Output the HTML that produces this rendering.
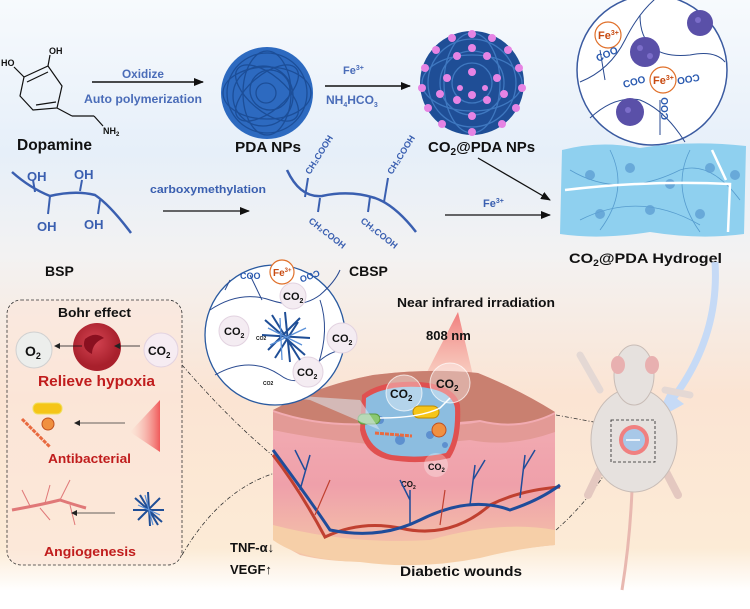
<!DOCTYPE html>
<html><head><meta charset="utf-8"><style>
html,body{margin:0;padding:0;background:#fff}
svg{display:block}
text{font-family:"Liberation Sans",sans-serif;font-weight:bold}
</style></head><body>
<svg width="750" height="609" viewBox="0 0 750 609" xmlns="http://www.w3.org/2000/svg">
<defs>
<linearGradient id="bg" x1="0" y1="0" x2="0" y2="1">
<stop offset="0" stop-color="#f7fafd"/><stop offset="0.25" stop-color="#e6eff9"/>
<stop offset="0.42" stop-color="#f3f2f2"/><stop offset="0.65" stop-color="#fbe4d3"/>
<stop offset="0.9" stop-color="#fcebd6"/><stop offset="0.97" stop-color="#ffffff"/>
</linearGradient>
<radialGradient id="rbc" cx="0.45" cy="0.4"><stop offset="0" stop-color="#d44452"/><stop offset="1" stop-color="#a8202c"/></radialGradient>
<linearGradient id="skin" x1="0" y1="0" x2="0" y2="1"><stop offset="0" stop-color="#f4b4b8"/><stop offset="0.6" stop-color="#efa0aa"/><stop offset="1" stop-color="#f5c8a8"/></linearGradient>
<linearGradient id="beam" x1="0" y1="0" x2="0" y2="1"><stop offset="0" stop-color="#f07070" stop-opacity="0.9"/><stop offset="1" stop-color="#f8b0a0" stop-opacity="0.1"/></linearGradient>
<linearGradient id="wedge" x1="1" y1="0" x2="0" y2="0"><stop offset="0" stop-color="#f05a5a"/><stop offset="1" stop-color="#f8c0b8" stop-opacity="0"/></linearGradient>
<marker id="ah" markerWidth="10" markerHeight="8" refX="9" refY="4" orient="auto" markerUnits="userSpaceOnUse"><path d="M0,0 L10,4 L0,8 z" fill="#111"/></marker>
<marker id="sa" markerWidth="6" markerHeight="6" refX="5" refY="3" orient="auto" markerUnits="userSpaceOnUse"><path d="M0,0 L6,3 L0,6 z" fill="#222"/></marker>
</defs>
<rect width="750" height="609" fill="url(#bg)"/>

<!-- Dopamine -->
<g stroke="#111" stroke-width="1.2" fill="none">
<polygon points="24,77 48,66 62,86 57,108 33,110 20,96"/>
<line x1="27" y1="82" x2="48" y2="72"/><line x1="56" y1="102" x2="36" y2="105"/>
<line x1="24" y1="77" x2="14" y2="67"/><line x1="48" y1="66" x2="50" y2="55"/>
<line x1="57" y1="108" x2="72" y2="116"/><line x1="72" y1="116" x2="94" y2="116"/><line x1="94" y1="116" x2="103" y2="126"/>
</g>
<text x="1" y="66" font-size="9" fill="#111">HO</text><text x="49" y="54" font-size="9" fill="#111">OH</text><text x="103" y="134" font-size="9" fill="#111">NH<tspan font-size="6" dy="2">2</tspan></text>
<text x="17" y="150" font-size="16" fill="#111" textLength="75" lengthAdjust="spacingAndGlyphs">Dopamine</text>
<line x1="92" y1="82" x2="203" y2="82" stroke="#111" stroke-width="1.5" marker-end="url(#ah)"/>
<text x="122" y="78" font-size="12" fill="#4a6cb8" textLength="42" lengthAdjust="spacingAndGlyphs">Oxidize</text>
<text x="84" y="103" font-size="12" fill="#4a6cb8" textLength="118" lengthAdjust="spacingAndGlyphs">Auto polymerization</text>

<!-- PDA NPs -->
<circle cx="267" cy="93" r="46" fill="#2d6ac0"/>
<g fill="none" stroke="#1c4e98" stroke-width="1.3">
<circle cx="267" cy="93" r="40"/><circle cx="263" cy="96" r="30"/><circle cx="270" cy="90" r="20"/><circle cx="266" cy="93" r="10"/>
<ellipse cx="267" cy="93" rx="44" ry="26"/><ellipse cx="267" cy="93" rx="24" ry="42"/>
<ellipse cx="267" cy="93" rx="38" ry="18" transform="rotate(40 267 93)"/><ellipse cx="267" cy="93" rx="38" ry="18" transform="rotate(-40 267 93)"/>
</g>
<text x="235" y="152" font-size="15" fill="#111" textLength="66" lengthAdjust="spacingAndGlyphs">PDA NPs</text>
<line x1="325" y1="86" x2="410" y2="86" stroke="#111" stroke-width="1.5" marker-end="url(#ah)"/>
<text x="343" y="74" font-size="11" fill="#4a6cb8">Fe<tspan font-size="7" dy="-4">3+</tspan></text>
<text x="326" y="104" font-size="12" fill="#4a6cb8">NH<tspan font-size="7" dy="3">4</tspan><tspan dy="-3">HCO</tspan><tspan font-size="7" dy="3">3</tspan></text>

<!-- CO2@PDA NPs -->
<circle cx="472" cy="83" r="52" fill="#1f4e96"/>
<g fill="none" stroke="#3f78c0" stroke-width="1.3">
<circle cx="472" cy="83" r="44"/><circle cx="472" cy="83" r="32"/><circle cx="472" cy="83" r="20"/><ellipse cx="472" cy="83" rx="50" ry="28"/><ellipse cx="472" cy="83" rx="28" ry="50"/>
</g>
<g fill="#e684e4">
<circle cx="472" cy="34" r="4"/><circle cx="452" cy="38" r="4"/><circle cx="492" cy="38" r="4"/><circle cx="436" cy="50" r="4"/><circle cx="508" cy="50" r="4"/>
<circle cx="425" cy="68" r="4"/><circle cx="519" cy="68" r="4"/><circle cx="422" cy="88" r="4"/><circle cx="522" cy="88" r="4"/><circle cx="428" cy="108" r="4"/><circle cx="516" cy="108" r="4"/>
<circle cx="442" cy="124" r="4"/><circle cx="502" cy="124" r="4"/><circle cx="472" cy="132" r="4"/><circle cx="457" cy="56" r="4"/><circle cx="487" cy="56" r="4"/>
<circle cx="447" cy="78" r="4"/><circle cx="497" cy="78" r="4"/><circle cx="472" cy="72" r="4"/><circle cx="457" cy="100" r="4"/><circle cx="487" cy="100" r="4"/><circle cx="472" cy="116" r="4"/>
<circle cx="440" cy="94" r="4"/><circle cx="504" cy="94" r="4"/><circle cx="472" cy="48" r="4"/><circle cx="472" cy="95" r="4"/><circle cx="460" cy="88" r="3"/><circle cx="485" cy="88" r="3"/>
</g>
<text x="428" y="152" font-size="15" fill="#111">CO<tspan font-size="10" dy="3">2</tspan><tspan dy="-3">@PDA NPs</tspan></text>

<!-- top right zoom circle -->
<circle cx="652" cy="70" r="75" fill="#fff" stroke="#3a5aa0" stroke-width="1.5"/>
<g fill="none" stroke="#2a4a90" stroke-width="1">
<path d="M580,82 Q610,70 625,40 Q640,10 660,-5"/><path d="M590,118 Q615,95 640,100 Q665,110 685,142"/><path d="M640,15 Q640,60 690,55 Q715,50 725,62"/><path d="M660,100 L660,135"/><path d="M600,50 L605,80"/>
</g>
<circle cx="608" cy="35" r="13" fill="#fff" stroke="#e0702a" stroke-width="1.2"/><text x="598" y="39" font-size="11" fill="#c84a10">Fe<tspan font-size="7" dy="-4">3+</tspan></text>
<circle cx="663" cy="80" r="13" fill="#fff" stroke="#e0702a" stroke-width="1.2"/><text x="653" y="84" font-size="11" fill="#c84a10">Fe<tspan font-size="7" dy="-4">3+</tspan></text>
<g font-size="10" fill="#2a5ab0" font-weight="normal">
<text x="598" y="62" transform="rotate(-25 598 62)">COO</text><text x="624" y="88" transform="rotate(-15 624 88)">COO</text>
<text x="698" y="62" transform="rotate(170 698 68)">COO</text><text x="668" y="120" transform="rotate(-90 668 120)">COO</text>
</g>
<circle cx="645" cy="52" r="15" fill="#5a50a8"/><circle cx="700" cy="23" r="13" fill="#5a50a8"/><circle cx="630" cy="112" r="14" fill="#5a50a8"/>
<g fill="#8a7ad8" opacity="0.7"><circle cx="640" cy="48" r="3"/><circle cx="650" cy="56" r="3"/><circle cx="698" cy="20" r="3"/><circle cx="628" cy="110" r="3"/></g>

<!-- hydrogel -->
<path d="M562,150 Q600,140 640,148 Q690,140 746,146 L744,234 Q700,240 650,232 Q600,240 560,234 Z" fill="#8fd0ef"/>
<g fill="none" stroke="#3e86c0" stroke-width="0.8" opacity="0.7"><path d="M570,170 Q620,200 680,170 Q710,160 740,200"/><path d="M580,220 Q640,190 700,225"/><path d="M610,150 Q630,190 600,230"/><path d="M690,150 Q670,190 700,232"/></g>
<g fill="#5fa0d4" opacity="0.8"><circle cx="590" cy="175" r="5"/><circle cx="630" cy="168" r="5"/><circle cx="670" cy="184" r="5"/><circle cx="710" cy="168" r="5"/><circle cx="600" cy="214" r="5"/><circle cx="650" cy="210" r="5"/><circle cx="700" cy="214" r="5"/><circle cx="735" cy="175" r="5"/></g>
<path d="M565,190 Q650,180 730,184 L728,232 M712,150 L726,180" fill="none" stroke="#fff" stroke-width="2.5"/>
<text x="569" y="263" font-size="14" fill="#111" textLength="153" lengthAdjust="spacingAndGlyphs">CO<tspan font-size="9" dy="3">2</tspan><tspan dy="-3">@PDA Hydrogel</tspan></text>

<!-- BSP chain -->
<path d="M12,172 Q30,188 50,196 Q75,190 95,195 Q110,205 131,233" fill="none" stroke="#3a5fb0" stroke-width="2.5"/>
<g stroke="#3a5fb0" stroke-width="2"><line x1="35" y1="192" x2="33" y2="180"/><line x1="50" y1="196" x2="48" y2="214"/><line x1="80" y1="191" x2="82" y2="180"/><line x1="100" y1="200" x2="98" y2="214"/></g>
<g font-size="13" fill="#3a5fb0" font-weight="normal"><text x="27" y="181">OH</text><text x="74" y="179">OH</text><text x="37" y="231">OH</text><text x="84" y="229">OH</text></g>
<text x="150" y="193" font-size="11" fill="#3a5fb0" font-weight="normal" textLength="116" lengthAdjust="spacingAndGlyphs">carboxymethylation</text>
<line x1="163" y1="211" x2="249" y2="211" stroke="#111" stroke-width="1.3" marker-end="url(#ah)"/>
<text x="45" y="276" font-size="14" fill="#111">BSP</text>

<!-- CBSP -->
<path d="M287,170 Q300,198 322,196 Q350,190 375,198 Q395,205 416,232" fill="none" stroke="#3a5fb0" stroke-width="2.5"/>
<g stroke="#3a5fb0" stroke-width="2"><line x1="305" y1="197" x2="308" y2="178"/><line x1="320" y1="198" x2="318" y2="212"/><line x1="384" y1="202" x2="388" y2="178"/><line x1="370" y1="197" x2="368" y2="212"/></g>
<g font-size="9" fill="#3a5fb0" font-weight="normal">
<text x="310" y="175" transform="rotate(-58 310 175)">CH₂COOH</text>
<text x="392" y="175" transform="rotate(-58 392 175)">CH₂COOH</text>
<text x="308" y="222" transform="rotate(38 308 222)">CH₂COOH</text>
<text x="360" y="222" transform="rotate(38 360 222)">CH₂COOH</text>
</g>
<line x1="478" y1="158" x2="550" y2="200" stroke="#111" stroke-width="1.3" marker-end="url(#ah)"/>
<line x1="445" y1="215" x2="550" y2="215" stroke="#111" stroke-width="1.3" marker-end="url(#ah)"/>
<text x="483" y="207" font-size="11" fill="#3a5fb0" font-weight="normal">Fe<tspan font-size="7" dy="-4">3+</tspan></text>
<text x="349" y="276" font-size="14" fill="#111">CBSP</text>

<!-- dashed connectors -->
<g fill="none" stroke="#333" stroke-width="0.8" stroke-dasharray="4,2,1,2">
<path d="M182,365 Q230,420 272,455"/><path d="M182,555 Q220,490 275,473"/>
<path d="M556,415 L610,425"/><path d="M556,530 Q590,500 612,462"/>
</g>

<!-- NIR beam -->
<path d="M458,312 L410,405 L480,405 Z" fill="url(#beam)"/>
<text x="397" y="307" font-size="13" fill="#111" textLength="158" lengthAdjust="spacingAndGlyphs">Near infrared irradiation</text>
<text x="426" y="340" font-size="13" fill="#111">808 nm</text>

<!-- skin block -->
<path d="M273,410 Q320,385 373,375 Q430,368 478,373 Q520,390 555,412 L555,545 Q520,548 490,555 Q450,565 400,560 Q340,565 300,555 L273,540 Z" fill="url(#skin)"/>
<path d="M273,410 Q320,385 373,375 Q430,368 478,373 Q520,390 555,412 Q520,430 480,420 Q440,425 400,420 Q330,430 273,410 Z" fill="#c98070"/>
<path d="M273,412 Q330,432 400,422 Q450,428 480,422 Q520,432 555,414 L555,432 Q510,448 470,440 Q420,445 380,445 Q320,440 273,430 Z" fill="#e39a96"/>
<path d="M273,540 Q300,560 360,562 Q420,570 480,558 Q520,548 555,545 L555,530 Q500,520 430,540 Q350,545 273,525 Z" fill="#f6cfa8"/>
<!-- wound gel -->
<path d="M362,395 Q380,380 420,382 Q455,385 460,405 Q462,440 450,458 Q420,465 390,460 Q365,455 360,430 Z" fill="#e05050"/>
<path d="M366,398 Q385,385 420,387 Q452,390 455,408 Q456,440 446,453 Q420,459 392,455 Q370,450 365,428 Z" fill="#8cbde0"/>
<g fill="#4a7ec8" opacity="0.7"><circle cx="380" cy="420" r="4"/><circle cx="400" cy="440" r="5"/><circle cx="430" cy="435" r="4"/><circle cx="445" cy="445" r="3"/></g>
<circle cx="404" cy="393" r="18" fill="#fff" fill-opacity="0.35" stroke="#fff" stroke-opacity="0.7"/>
<circle cx="450" cy="383" r="20" fill="#fff" fill-opacity="0.35" stroke="#fff" stroke-opacity="0.7"/>
<text x="390" y="398" font-size="12" fill="#111">CO<tspan font-size="8" dy="3">2</tspan></text>
<text x="436" y="388" font-size="12" fill="#111">CO<tspan font-size="8" dy="3">2</tspan></text>
<rect x="413" y="406" width="26" height="12" rx="6" fill="#f5c518" stroke="#c08a00"/>
<rect x="358" y="414" width="22" height="10" rx="5" fill="#8ac870" stroke="#5a9a40"/>
<circle cx="439" cy="430" r="7" fill="#f09040" stroke="#c05020"/>
<path d="M375,433 L412,436" stroke="#e86a40" stroke-width="3" stroke-dasharray="4,1"/>
<path d="M380,418 Q420,418 440,408 L450,398" stroke="#fff" stroke-width="1.5" fill="none"/>
<circle cx="436" cy="465" r="12" fill="#fff" fill-opacity="0.3"/><text x="428" y="470" font-size="9" fill="#111">CO<tspan font-size="6" dy="2">2</tspan></text>
<text x="401" y="487" font-size="8" fill="#111">CO<tspan font-size="5" dy="2">2</tspan></text>
<!-- vessels -->
<g fill="none" stroke-width="3">
<path d="M273,455 Q300,490 325,537 Q360,520 400,528 Q450,540 490,505 Q520,490 560,487" stroke="#c04030"/>
<path d="M273,450 Q310,500 330,530 Q380,540 420,520 Q470,495 510,510 Q540,500 560,485" stroke="#1f4c9a"/>
</g>
<g fill="none" stroke="#1f4c9a" stroke-width="1.5">
<path d="M300,490 L310,455 M305,470 L295,450"/><path d="M410,525 L410,490 M410,500 L400,480"/><path d="M470,505 L475,465 M473,480 L485,460"/><path d="M520,498 L525,455 M523,470 L535,450"/>
</g>
<g fill="none" stroke="#c04030" stroke-width="1.2"><path d="M315,515 L330,480"/><path d="M440,525 L445,490"/></g>
<text x="230" y="552" font-size="13" fill="#111">TNF-α↓</text>
<text x="230" y="574" font-size="13" fill="#111">VEGF↑</text>
<text x="400" y="576" font-size="14" fill="#111" textLength="122" lengthAdjust="spacingAndGlyphs">Diabetic wounds</text>

<!-- zoom circle -->
<path d="M240,392 L360,400 L380,430 L310,400 Z" fill="#dde8f2" opacity="0.55"/>
<circle cx="275" cy="335" r="70" fill="#fff" stroke="#2a5aa0" stroke-width="1.3"/>
<g fill="none" stroke="#2a4a90" stroke-width="1">
<path d="M210,310 Q240,290 270,300 Q300,310 320,295 Q335,282 340,270"/><path d="M225,290 L230,280"/>
<path d="M250,275 L262,300"/><path d="M215,375 Q250,355 280,375 Q300,390 315,365 Q330,350 345,350"/>
<path d="M320,300 Q330,330 318,365"/>
</g>
<circle cx="282" cy="272" r="12" fill="#fff" stroke="#e0702a" stroke-width="1.2"/><text x="273" y="276" font-size="10" fill="#c84a10">Fe<tspan font-size="6" dy="-4">3+</tspan></text>
<text x="240" y="279" font-size="9" fill="#2a5ab0" font-weight="normal">COO</text>
<text x="300" y="279" font-size="9" fill="#2a5ab0" font-weight="normal" transform="rotate(160 310 276)">COO</text>
<g fill="#f4ecf2" stroke="#e2d2e0"><circle cx="234" cy="331" r="15"/><circle cx="342" cy="338" r="15"/><circle cx="308" cy="372" r="15"/><circle cx="293" cy="296" r="13"/></g>
<text x="224" y="335" font-size="11" fill="#111">CO<tspan font-size="7" dy="3">2</tspan></text>
<text x="332" y="342" font-size="11" fill="#111">CO<tspan font-size="7" dy="3">2</tspan></text>
<text x="297" y="376" font-size="11" fill="#111">CO<tspan font-size="7" dy="3">2</tspan></text>
<text x="283" y="300" font-size="11" fill="#111">CO<tspan font-size="7" dy="3">2</tspan></text>
<text x="256" y="340" font-size="5" fill="#111" font-weight="normal">CO2</text>
<text x="263" y="385" font-size="5" fill="#111" font-weight="normal">CO2</text>
<g stroke="#1f4e96" stroke-width="2" fill="none">
<path d="M265,320 L305,355 M268,350 L300,318 M285,312 L290,362 M262,335 L310,338 M272,315 L300,360 M275,358 L298,322"/>
</g>
<g stroke="#5a90d8" stroke-width="1.3" fill="none"><path d="M268,328 L302,345 M280,318 L282,360 M270,345 L306,328"/></g>

<!-- blue arrow to rat -->
<path d="M715,262 Q720,340 668,405" fill="none" stroke="#c6daf6" stroke-width="7"/>
<path d="M655,420 L684,404 L668,392 Z" fill="#c6daf6"/>

<!-- rat -->
<path d="M632,490 Q630,540 622,590" fill="none" stroke="#e8b8b0" stroke-width="3"/>
<path d="M600,470 L588,495 M665,470 L678,495" stroke="#e4c8c0" stroke-width="8" stroke-linecap="round"/>
<path d="M600,390 L580,355 M665,390 L690,395" stroke="#e4d8d4" stroke-width="7" stroke-linecap="round"/>
<ellipse cx="634" cy="440" rx="43" ry="52" fill="#e6e1de" stroke="#c8bcb6"/>
<ellipse cx="634" cy="375" rx="20" ry="30" fill="#e6e1de" stroke="#c8bcb6"/>
<ellipse cx="618" cy="365" rx="7" ry="9" fill="#e8b0b0"/><ellipse cx="652" cy="365" rx="7" ry="9" fill="#e8b0b0"/>
<circle cx="634" cy="440" r="15" fill="#f08080"/><circle cx="634" cy="440" r="11" fill="#a8c8e8"/>
<line x1="626" y1="440" x2="640" y2="440" stroke="#fff" stroke-width="1.5"/>
<rect x="611" y="420" width="44" height="42" fill="none" stroke="#222" stroke-dasharray="3,2" stroke-width="0.8"/>

<!-- left box -->
<rect x="7" y="300" width="175" height="265" rx="14" fill="#fbe6da" fill-opacity="0.6" stroke="#333" stroke-dasharray="3,2" stroke-width="0.8"/>
<text x="58" y="317" font-size="13" fill="#111" textLength="73" lengthAdjust="spacingAndGlyphs">Bohr effect</text>
<circle cx="34" cy="350" r="18" fill="#eceeec" stroke="#d0d0d0"/><text x="25" y="356" font-size="14" fill="#111">O<tspan font-size="9" dy="3">2</tspan></text>
<circle cx="97" cy="347" r="24" fill="url(#rbc)"/><path d="M85,339 Q95,331 104,338 Q92,343 92,354 Q81,349 85,339Z" fill="#8a1020"/>
<circle cx="161" cy="350" r="17" fill="#f6ecf2" stroke="#e2d2e0"/><text x="148" y="355" font-size="12" fill="#111">CO<tspan font-size="8" dy="3">2</tspan></text>
<line x1="82" y1="346" x2="55" y2="346" stroke="#111" stroke-width="0.8" marker-end="url(#sa)"/><line x1="140" y1="346" x2="115" y2="346" stroke="#111" stroke-width="0.8" marker-end="url(#sa)"/>
<text x="38" y="386" font-size="15" fill="#c01d1d" textLength="117" lengthAdjust="spacingAndGlyphs">Relieve hypoxia</text>
<rect x="33" y="403" width="29" height="11" rx="5" fill="#f5c518" stroke="#f0e060"/>
<circle cx="48" cy="424" r="6" fill="#f09040" stroke="#c05020"/>
<path d="M22,419 L50,447" stroke="#e86a40" stroke-width="3" stroke-dasharray="4,1"/>
<line x1="125" y1="423" x2="75" y2="423" stroke="#333" stroke-width="0.8" marker-end="url(#sa)"/>
<path d="M160,400 L160,452 L130,432 Z" fill="url(#wedge)"/>
<text x="48" y="463" font-size="13" fill="#c01d1d" textLength="83" lengthAdjust="spacingAndGlyphs">Antibacterial</text>
<g fill="none" stroke="#e07878"><path d="M12,510 Q40,505 60,500 Q75,505 86,508" stroke-width="3"/><path d="M30,506 L22,490 M45,503 L50,485 M60,500 L70,480 M40,508 L50,520 M70,505 L75,525" stroke-width="1"/></g>
<line x1="115" y1="513" x2="72" y2="513" stroke="#333" stroke-width="0.8" marker-end="url(#sa)"/>
<g stroke="#1f4e96" stroke-width="2" fill="none"><path d="M135,498 L162,522 M138,520 L160,498 M148,492 L150,526 M133,510 L164,510 M140,495 L158,525"/></g>
<g stroke="#5a90d8" stroke-width="1.2" fill="none"><path d="M138,505 L160,515 M145,495 L153,525"/></g>
<text x="44" y="556" font-size="13" fill="#c01d1d" textLength="92" lengthAdjust="spacingAndGlyphs">Angiogenesis</text>
</svg>
</body></html>
